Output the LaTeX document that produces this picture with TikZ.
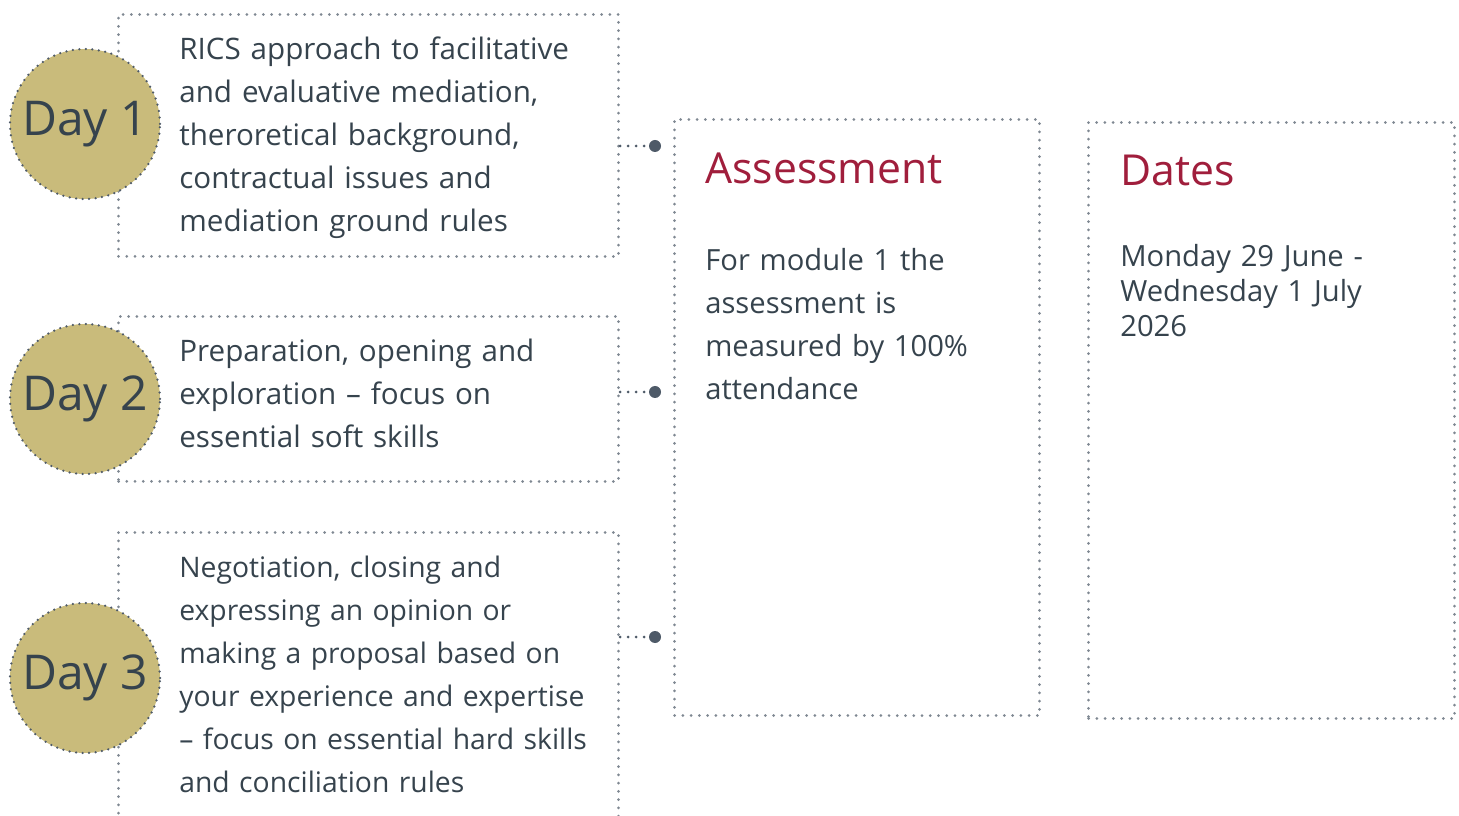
\documentclass[tikz,border=0pt]{standalone}
\usepackage{fontspec}
\setmainfont{Open Sans}
\usetikzlibrary{positioning, calc}
\definecolor{slate}{HTML}{36434D}
\definecolor{ricsred}{HTML}{A01E3C}
\definecolor{khaki}{HTML}{C9BB7B}
\definecolor{dotgrey}{HTML}{7F8892}
\definecolor{rimgrey}{HTML}{4E5A68}

\begin{document}
\begin{tikzpicture}
    [
        box_node/.style={rectangle, draw=dotgrey, line width=0.06cm, line cap=round, dash pattern=on 0pt off 0.165cm, anchor=north west, inner sep=0pt},
        day_node/.style={circle, fill=khaki, draw=rimgrey, line width=0.05cm, line cap=round, dash pattern=on 0pt off 0.13cm, minimum size=3cm, inner sep=0pt, text=slate, font=\fontsize{27.3}{32}\selectfont},
        day_text/.style={anchor=base west, inner sep=0pt, text width=9.5cm, align=left, text=slate, font=\fontsize{16.85}{24.4}\selectfont},
        head_text/.style={anchor=base west, inner sep=0pt, text=ricsred, font=\fontsize{24.3}{30}\selectfont},
        pin_dot/.style={circle, fill=rimgrey, minimum size=0.24cm, inner sep=0pt},
        link_line/.style={draw=rimgrey, line width=0.06cm, line cap=round, dash pattern=on 0pt off 0.16cm},
    ]
        \useasboundingbox (0,0) rectangle (29.18,-16.32);
        % day boxes
        \node[box_node, minimum width=10cm, minimum height=4.84cm] (box1) at (2.34,-0.26) {};
        \node[box_node, minimum width=10cm, minimum height=3.30cm] (box2) at (2.34,-6.30) {};
        \node[box_node, minimum width=10cm, minimum height=5.90cm] (box3) at (2.34,-10.62) {};
        \node[day_node] (day1) at (1.70,-2.48) {Day 1};
        \node[day_node] (day2) at (1.70,-7.98) {Day 2};
        \node[day_node] (day3) at (1.70,-13.56) {Day 3};
        \node[day_text] (txt1) at (3.58,-1.20) {RICS approach to facilitative\\and evaluative mediation,\\theroretical background,\\contractual issues and\\mediation ground rules};
        \node[day_text] (txt2) at (3.58,-7.24) {Preparation, opening and\\exploration – focus on\\essential soft skills};
        \node[day_text, font=\fontsize{16.1}{24.4}\selectfont] (txt3) at (3.58,-11.56) {Negotiation, closing and\\expressing an opinion or\\making a proposal based on\\your experience and expertise\\– focus on essential hard skills\\and conciliation rules};
        % right hand boxes
        \node[box_node, minimum width=7.30cm, minimum height=11.92cm] (assess) at (13.46,-2.36) {};
        \node[box_node, minimum width=7.32cm, minimum height=11.92cm] (dates) at (21.74,-2.42) {};
        \node[head_text] (assesshead) at (14.10,-3.68) {Assessment};
        \node[day_text, text width=6.4cm, font=\fontsize{16.6}{24.4}\selectfont] (assesstxt) at (14.10,-5.42) {For module 1 the\\assessment is\\measured by 100\%\\attendance};
        \node[head_text] (dateshead) at (22.40,-3.72) {Dates};
        \node[day_text, text width=6.4cm, font=\fontsize{16.6}{19.8}\selectfont] (datestxt) at (22.40,-5.34) {Monday 29 June -\\Wednesday 1 July\\2026};
        % connectors
        \node[pin_dot] (pin1) at (13.10,-2.92) {};
        \node[pin_dot] (pin2) at (13.10,-7.84) {};
        \node[pin_dot] (pin3) at (13.10,-12.74) {};
        \draw[link_line] (pin1 -| box1.east) -- (pin1);
        \draw[link_line] (pin2 -| box2.east) -- (pin2);
        \draw[link_line] (pin3 -| box3.east) -- (pin3);
\end{tikzpicture}
\end{document}
